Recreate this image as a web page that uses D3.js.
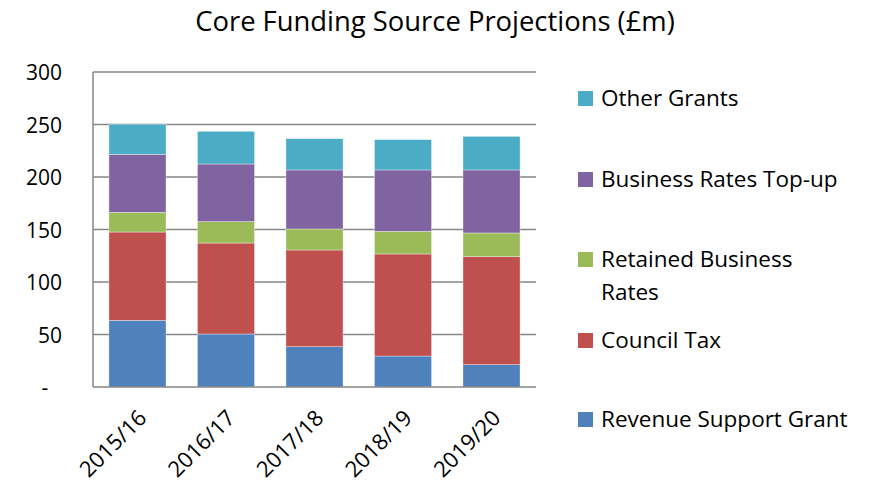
<!DOCTYPE html>
<html>
<head>
<meta charset="utf-8">
<script src="https://cdn.jsdelivr.net/npm/d3@7"></script>
<style>
  body { margin: 0; background: #fff; }
  svg text { font-family: "Open Sans", "Noto Sans", sans-serif; fill: #000; }
</style>
</head>
<body>
<svg id="chart" width="870" height="486"></svg>
<script>
// chart data (£m)
var years = ["2015/16", "2016/17", "2017/18", "2018/19", "2019/20"];
var revenueSupportGrant = [63.5, 50.5, 38.4, 29.5, 21.3];
var councilTax = [84.1, 86.6, 92.1, 97.2, 102.8];
var retainedBusinessRates = [18.7, 20.4, 20.0, 21.6, 22.6];
var businessRatesTopUp = [55.3, 54.9, 56.2, 58.4, 60.0];
var otherGrants = [28.6, 31.1, 29.8, 28.9, 32.0];
var yTicks = [0, 50, 100, 150, 200, 250, 300];

var seriesNames = ["Revenue Support Grant", "Council Tax", "Retained Business Rates", "Business Rates Top-up", "Other Grants"];
var seriesKeys = ["rsg", "ct", "rbr", "tu", "og"];
var colors = ["#4F81BD", "#C0504D", "#9BBB59", "#8064A2", "#4BACC6"];

var rows = years.map(function (y, i) {
  return { year: y, rsg: revenueSupportGrant[i], ct: councilTax[i], rbr: retainedBusinessRates[i], tu: businessRatesTopUp[i], og: otherGrants[i] };
});

var svg = d3.select("#chart");
var plotLeft = 93, plotRight = 536, plotTop = 72, plotBottom = 387;

var x = d3.scaleBand().domain(years).range([plotLeft, plotRight]).paddingInner(0.355).paddingOuter(0.18);
var y = d3.scaleLinear().domain([0, 300]).range([plotBottom, plotTop]);

// title
svg.append("text")
  .attr("x", 435).attr("y", 31)
  .attr("text-anchor", "middle")
  .style("font-size", "27.4px")
  .text("Core Funding Source Projections (£m)");

// gridlines
svg.append("g").selectAll("line")
  .data(yTicks.filter(function (d) { return d > 0; }))
  .enter().append("line")
  .attr("x1", plotLeft).attr("x2", plotRight)
  .attr("y1", function (d) { return y(d); })
  .attr("y2", function (d) { return y(d); })
  .attr("stroke", "#868686").attr("stroke-width", 1.5);

// stacked bars
var stacked = d3.stack().keys(seriesKeys)(rows);
svg.append("g").selectAll("g")
  .data(stacked)
  .enter().append("g")
  .attr("fill", function (d, i) { return colors[i]; })
  .selectAll("rect")
  .data(function (d) { return d; })
  .enter().append("rect")
  .attr("x", function (d) { return x(d.data.year); })
  .attr("width", x.bandwidth())
  .attr("y", function (d) { return y(d[1]); })
  .attr("height", function (d) { return y(d[0]) - y(d[1]); })
  .attr("stroke", "rgba(255,255,255,0.5)").attr("stroke-width", 0.7);

// axes lines
svg.append("line").attr("x1", plotLeft).attr("x2", plotLeft).attr("y1", plotTop).attr("y2", plotBottom)
  .attr("stroke", "#868686").attr("stroke-width", 1.5);
svg.append("line").attr("x1", plotLeft).attr("x2", plotRight).attr("y1", plotBottom).attr("y2", plotBottom)
  .attr("stroke", "#868686").attr("stroke-width", 1.5);

// y tick labels
svg.append("g").selectAll("text")
  .data(yTicks)
  .enter().append("text")
  .attr("x", function (d) { return d === 0 ? 45 : 62; })
  .attr("y", function (d) { return y(d) + 8; })
  .attr("text-anchor", function (d) { return d === 0 ? "middle" : "end"; })
  .style("font-size", "21px")
  .text(function (d) { return d === 0 ? "-" : d; });

// x tick labels
svg.append("g").selectAll("text")
  .data(years)
  .enter().append("text")
  .attr("transform", function (d) {
    return "translate(" + (x(d) + x.bandwidth() / 2 + 5) + "," + (plotBottom + 27) + ") rotate(-45)";
  })
  .attr("text-anchor", "end")
  .attr("dy", "0.35em")
  .style("font-size", "22px")
  .text(function (d) { return d; });

// legend (top to bottom: reversed series order)
var legendY = [98, 179, 259, 340, 419];
var legend = svg.append("g");
seriesNames.slice().reverse().forEach(function (name, i) {
  var col = colors[colors.length - 1 - i];
  var g = legend.append("g").attr("transform", "translate(578," + legendY[i] + ")");
  g.append("rect").attr("x", 0).attr("y", -7).attr("width", 15).attr("height", 15).attr("fill", col);
  var t = g.append("text").attr("x", 23).attr("y", 8).style("font-size", "22.5px");
  if (name === "Retained Business Rates") {
    t.append("tspan").attr("x", 23).text("Retained Business");
    t.append("tspan").attr("x", 23).attr("dy", 33).text("Rates");
  } else {
    t.text(name);
  }
});
</script>
</body>
</html>
